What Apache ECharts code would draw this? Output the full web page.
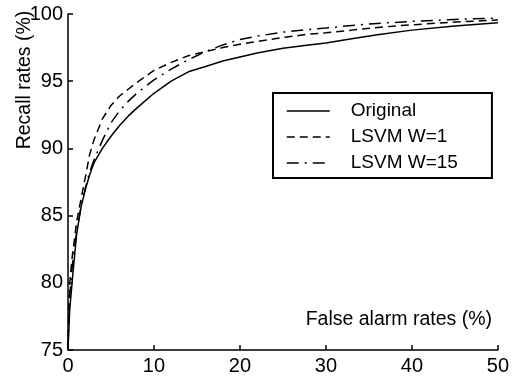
<!DOCTYPE html>
<html>
<head>
<meta charset="utf-8">
<script src="https://cdn.jsdelivr.net/npm/echarts@6/dist/echarts.min.js"></script>
<style>
html,body{margin:0;padding:0;background:#fff;}
#chart{width:512px;height:376px;}
</style>
</head>
<body>
<div id="chart"></div>
<script>
var falseAlarm = [0, 0.1, 0.2, 0.5, 1, 1.5, 2, 2.5, 3, 4, 5, 6, 7, 8, 10, 12, 14, 16, 18, 20, 22, 25, 28, 30, 33, 36, 40, 45, 50];
var original = [75, 76.5, 78, 80.2, 83.6, 85.6, 86.9, 88.0, 88.9, 90.0, 90.9, 91.7, 92.4, 93.0, 94.1, 95.0, 95.7, 96.1, 96.5, 96.8, 97.1, 97.45, 97.7, 97.85, 98.15, 98.45, 98.8, 99.1, 99.35];
var lsvmW1 = [75, 78, 80, 82, 84.5, 86.2, 87.8, 89.5, 90.6, 92.2, 93.2, 93.9, 94.4, 94.9, 95.8, 96.4, 96.9, 97.2, 97.5, 97.75, 97.95, 98.25, 98.5, 98.6, 98.8, 99.0, 99.2, 99.4, 99.55];
var lsvmW15 = [75, 77.5, 79, 81.3, 83.8, 85.6, 87.0, 88.2, 89.1, 90.6, 91.9, 92.8, 93.5, 94.1, 95.1, 95.9, 96.6, 97.2, 97.7, 98.1, 98.35, 98.65, 98.85, 98.95, 99.15, 99.3, 99.45, 99.6, 99.7];
var seriesNames = ['Original', 'LSVM W=1', 'LSVM W=15'];
var xTicks = [0, 10, 20, 30, 40, 50];
var yTicks = [75, 80, 85, 90, 95, 100];
var xTitle = 'False alarm rates (%)';
var yTitle = 'Recall rates (%)';

function pairs(ys){ return falseAlarm.map(function(x,i){ return [x, ys[i]]; }); }

var FONT = 'Liberation Sans, Arial, sans-serif';
var chart = echarts.init(document.getElementById('chart'), null, {renderer:'canvas'});
var axisCommon = {
  axisLine:{show:true, lineStyle:{color:'#000', width:1.5}},
  axisTick:{show:true, inside:true, length:5, lineStyle:{color:'#000', width:1.5}},
  splitLine:{show:false},
  axisLabel:{color:'#000', fontSize:20, fontFamily:FONT}
};
var dashTypes = ['solid', [8,5], [12,6,2,6]];
var datasets = [original, lsvmW1, lsvmW15];
chart.setOption({
  animation:false,
  backgroundColor:'#fff',
  grid:{left:68, right:12, top:14, bottom:24, containLabel:false},
  xAxis:Object.assign({type:'value', min:xTicks[0], max:xTicks[xTicks.length-1], interval:10}, axisCommon, {axisLabel:Object.assign({}, axisCommon.axisLabel, {margin:6})}),
  yAxis:Object.assign({type:'value', min:yTicks[0], max:yTicks[yTicks.length-1], interval:5}, axisCommon, {axisLabel:Object.assign({}, axisCommon.axisLabel, {margin:5})}),
  legend:{
    show:true,
    orient:'vertical', left:273, top:93,
    data:seriesNames,
    itemWidth:43, itemHeight:14, itemGap:6,
    padding:[8, 34, 5, 13],
    borderColor:'#000', borderWidth:2,
    itemStyle:{opacity:0},
    lineStyle:{width:1.5},
    textStyle:{color:'#000', fontSize:19, fontFamily:FONT, lineHeight:20, padding:[0,0,0,16]}
  },
  graphic:[
    {type:'text', x:492, y:320, style:{text:xTitle, fill:'#000', font:'19.5px ' + FONT, align:'right', verticalAlign:'middle'}},
    {type:'text', x:25, y:80, rotation:Math.PI/2, style:{text:yTitle, fill:'#000', font:'19.5px ' + FONT, align:'center', verticalAlign:'middle'}}
  ],
  series:datasets.map(function(d,i){
    return {
      name:seriesNames[i], type:'line', data:pairs(d),
      showSymbol:false, symbol:'none',
      lineStyle:{color:'#000', width:1.5, type:dashTypes[i]},
      itemStyle:{color:'#000'}
    };
  })
});
</script>
</body>
</html>
